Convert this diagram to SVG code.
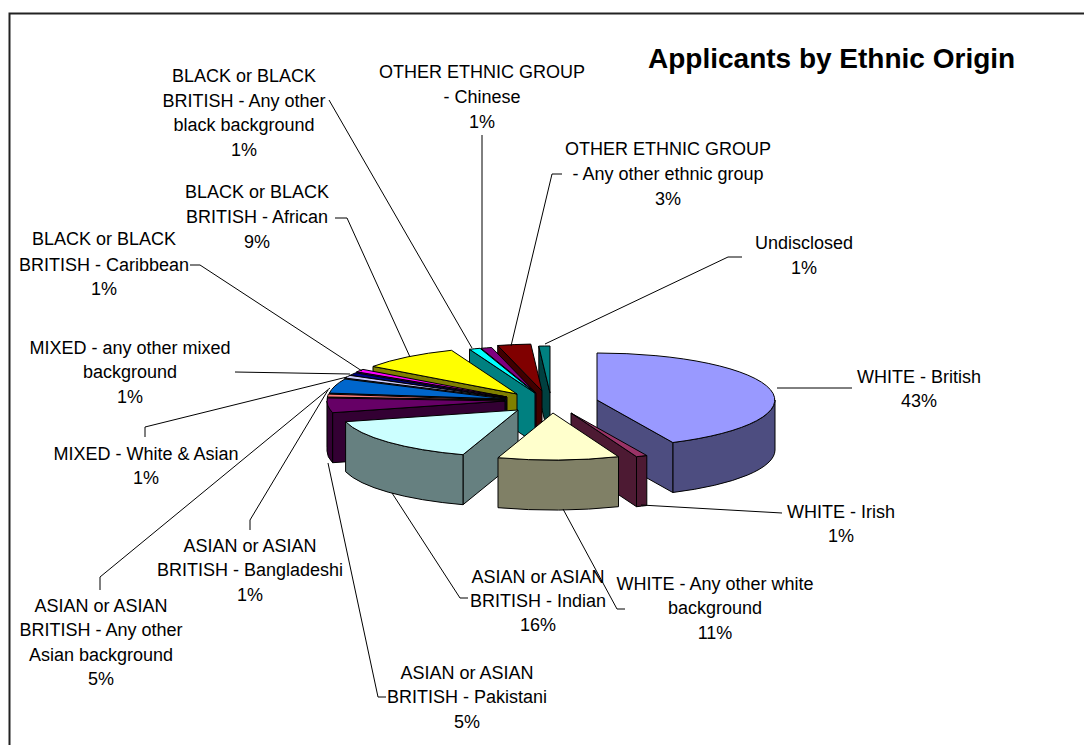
<svg xmlns="http://www.w3.org/2000/svg" width="1084" height="745" viewBox="0 0 1084 745">
<style>
.s{stroke:#000;stroke-width:1;stroke-linejoin:round}
.t{font-family:"Liberation Sans",Arial,sans-serif;font-size:18px;fill:#000;text-anchor:middle}
.ttl{font-family:"Liberation Sans",Arial,sans-serif;font-size:28px;font-weight:bold;fill:#000}
.ld{stroke:#000;stroke-width:1;fill:none}
</style>
<rect x="0" y="0" width="1084" height="745" fill="#fff"/>
<path d="M9.5,745 V13.5 H1084" fill="none" stroke="#222" stroke-width="2"/>
<text class="ttl" x="648" y="68">Applicants by Ethnic Origin</text>

<g id="pie">
<g id="undisclosed">
<path class="s" fill="#004040" d="M550,393 L538.8,346.1 L538.8,396.1 L550,443 Z"/>
<path class="s" fill="#008080" d="M550,393 L538.8,346.1 A178,47 0 0 1 550,346 Z"/>
</g>
<g id="other-ethnic">
<path class="s" fill="#400000" d="M542,391 L497.7,345.5 L497.7,395.5 L542,441 Z"/>
<path class="s" fill="#800000" d="M542,391 L497.7,345.5 A178,47 0 0 1 530.8,344.1 Z"/>
</g>
<g id="chinese">
<path class="s" fill="#400040" d="M536,393 L481,348.3 L481,398.3 L536,443 Z"/>
<path class="s" fill="#800080" d="M536,393 L481,348.3 A178,47 0 0 1 491.7,347.5 Z"/>
</g>
<g id="black-other">
<path class="s" fill="#008080" d="M535,393 L469.5,349.3 L469.5,399.3 L535,443 Z"/>
<path class="s" fill="#00FFFF" d="M535,393 L469.5,349.3 A178,47 0 0 1 480,348.3 Z"/>
</g>
<g id="african">
<path class="s" fill="#808000" d="M517,394 L373,366.4 L373,416.4 L517,444 Z"/>
<path class="s" fill="#FFFF00" d="M517,394 L373,366.4 A178,47 0 0 1 451.5,350.3 Z"/>
</g>
<g id="caribbean">
<path class="s" fill="#800080" d="M507,397 L356.7,371.8 L356.7,421.8 L507,447 Z"/>
<path class="s" fill="#FF00FF" d="M507,397 L356.7,371.8 A178,47 0 0 1 363,369.4 Z"/>
</g>
<g id="mixed-other">
<path class="s" fill="#000040" d="M506,398 L350,375.4 L350,425.4 L506,448 Z"/>
<path class="s" fill="#000080" d="M506,398 L350,375.4 A178,47 0 0 1 355.7,372.8 Z"/>
</g>
<g id="mixed-white-asian">
<path class="s" fill="#666680" d="M506,398 L344.9,378 L344.9,428 L506,448 Z"/>
<path class="s" fill="#CCCCFF" d="M506,398 L344.9,378 A178,47 0 0 1 350,375.4 Z"/>
</g>
<g id="asian-other">
<path class="s" fill="#003366" d="M506,399 L329.4,393.1 L329.4,443.1 L506,449 Z"/>
<path class="s" fill="#0066CC" d="M506,399 L329.4,393.1 A178,47 0 0 1 344.9,379 Z"/>
</g>
<g id="bangladeshi">
<path class="s" fill="#804040" d="M505,400 L327.4,397 L327.4,447 L505,450 Z"/>
<path class="s" fill="#FF8080" d="M505,400 L327.4,397 A178,47 0 0 1 328.4,394.1 Z"/>
</g>
<g id="pakistani">
<path class="s" fill="#330033" d="M505,401 L332.6,412.7 L332.6,462.7 L505,451 Z"/>
<path class="s" fill="#330033" d="M332.6,412.7 A178,47 0 0 1 327,401 L327,451 A178,47 0 0 0 332.6,462.7 Z"/>
<path class="s" fill="#660066" d="M505,401 L332.6,412.7 A178,47 0 0 1 327.4,398 Z"/>
</g>
<g id="white-british">
<path class="s" fill="#4D4D80" d="M775,400 A178,47 0 0 1 672.8,442.5 L672.8,492.5 A178,47 0 0 0 775,450 Z"/>
<path class="s" fill="#4D4D80" d="M597,400 L672.8,442.5 L672.8,492.5 L597,450 Z"/>
<path class="s" fill="#9999FF" d="M597,400 L597,353 A178,47 0 0 1 672.8,442.5 Z"/>
</g>
<g id="white-irish">
<path class="s" fill="#4D1A33" d="M571,413 L636.5,456.7 L636.5,506.7 L571,463 Z"/>
<path class="s" fill="#4D1A33" d="M646.8,455.5 A178,47 0 0 1 636.5,456.7 L636.5,506.7 A178,47 0 0 0 646.8,505.5 Z"/>
<path class="s" fill="#993366" d="M571,413 L646.8,455.5 A178,47 0 0 1 636.5,456.7 Z"/>
</g>
<g id="indian">
<path class="s" fill="#668080" d="M518,410 L463,454.7 L463,504.7 L518,460 Z"/>
<path class="s" fill="#668080" d="M463,454.7 A178,47 0 0 1 345.6,421.7 L345.6,471.7 A178,47 0 0 0 463,504.7 Z"/>
<path class="s" fill="#CCFFFF" d="M518,410 L463,454.7 A178,47 0 0 1 345.6,421.7 Z"/>
</g>
<g id="white-other">
<path class="s" fill="#808066" d="M618.5,456.7 A178,47 0 0 1 498,457.7 L498,507.7 A178,47 0 0 0 618.5,506.7 Z"/>
<path class="s" fill="#FFFFCC" d="M553,413 L618.5,456.7 A178,47 0 0 1 498,457.7 Z"/>
</g>
</g>

<g id="connectors">
<path class="ld" d="M482,135 V348"/>
<path class="ld" d="M329,100 L472,348"/>
<path class="ld" d="M562,174 H552 L511,346"/>
<path class="ld" d="M742,257 H728 L545,344"/>
<path class="ld" d="M777,388 H852"/>
<path class="ld" d="M641,505 L782,513"/>
<path class="ld" d="M563,509 L617,609 H625"/>
<path class="ld" d="M392,493 L460,598 H468"/>
<path class="ld" d="M328,463 L378,697 H386"/>
<path class="ld" d="M250,530 V520 L328,390"/>
<path class="ld" d="M100,590 V577 L330,388"/>
<path class="ld" d="M145,437 V427 L347,377"/>
<path class="ld" d="M235,372 L350,374"/>
<path class="ld" d="M190,265 H200 L362,371"/>
<path class="ld" d="M335,218 H347 L410,357"/>
</g>

<g id="label-chinese"><text class="t" x="482" y="78">OTHER ETHNIC GROUP</text><text class="t" x="482" y="103">- Chinese</text><text class="t" x="482" y="128">1%</text></g>
<g id="label-black-other"><text class="t" x="244" y="82">BLACK or BLACK</text><text class="t" x="244" y="106.5">BRITISH - Any other</text><text class="t" x="244" y="131">black background</text><text class="t" x="244" y="156">1%</text></g>
<g id="label-other-ethnic"><text class="t" x="668" y="155">OTHER ETHNIC GROUP</text><text class="t" x="668" y="180">- Any other ethnic group</text><text class="t" x="668" y="205">3%</text></g>
<g id="label-undisclosed"><text class="t" x="804" y="249">Undisclosed</text><text class="t" x="804" y="274">1%</text></g>
<g id="label-african"><text class="t" x="257" y="198">BLACK or BLACK</text><text class="t" x="257" y="223">BRITISH - African</text><text class="t" x="257" y="248">9%</text></g>
<g id="label-caribbean"><text class="t" x="104" y="244.5">BLACK or BLACK</text><text class="t" x="104" y="270.5">BRITISH - Caribbean</text><text class="t" x="104" y="294.5">1%</text></g>
<g id="label-mixed-other"><text class="t" x="130" y="353.5">MIXED - any other mixed</text><text class="t" x="130" y="378">background</text><text class="t" x="130" y="403">1%</text></g>
<g id="label-mixed-wa"><text class="t" x="146" y="459.5">MIXED - White &amp; Asian</text><text class="t" x="146" y="484">1%</text></g>
<g id="label-bangladeshi"><text class="t" x="250" y="551.5">ASIAN or ASIAN</text><text class="t" x="250" y="576">BRITISH - Bangladeshi</text><text class="t" x="250" y="600.5">1%</text></g>
<g id="label-asian-other"><text class="t" x="101" y="611.5">ASIAN or ASIAN</text><text class="t" x="101" y="636">BRITISH - Any other</text><text class="t" x="101" y="660.5">Asian background</text><text class="t" x="101" y="685">5%</text></g>
<g id="label-pakistani"><text class="t" x="467" y="678.5">ASIAN or ASIAN</text><text class="t" x="467" y="703">BRITISH - Pakistani</text><text class="t" x="467" y="727.5">5%</text></g>
<g id="label-indian"><text class="t" x="538" y="582.5">ASIAN or ASIAN</text><text class="t" x="538" y="606.5">BRITISH - Indian</text><text class="t" x="538" y="631">16%</text></g>
<g id="label-white-other"><text class="t" x="715" y="589.5">WHITE - Any other white</text><text class="t" x="715" y="614">background</text><text class="t" x="715" y="638.5">11%</text></g>
<g id="label-irish"><text class="t" x="841" y="517.5">WHITE - Irish</text><text class="t" x="841" y="542">1%</text></g>
<g id="label-british"><text class="t" x="919" y="382.5">WHITE - British</text><text class="t" x="919" y="407">43%</text></g>
</svg>
